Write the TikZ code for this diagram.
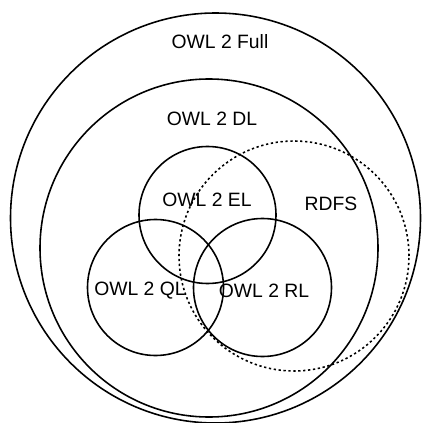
\documentclass[tikz,border=0pt]{standalone}
\usepackage{fontspec}
\setmainfont{Liberation Sans}
\usepackage{tikz}
\usetikzlibrary{positioning}

\tikzset{
  setline/.style={line width=0.9pt},
  rdfsline/.style={line width=0.9pt, dash pattern=on 1.3pt off 1.5pt},
  setlabel/.style={font=\fontsize{11}{13}\selectfont, inner sep=0pt}
}

\begin{document}
\begin{tikzpicture}
\useasboundingbox (0,0) rectangle (8.42,-8.46);
% profile circles
\draw[setline] (4.31,-4.36) circle (4.10);
\draw[setline] (4.18,-4.96) circle (3.38);
\draw[setline] (4.15,-4.30) circle (1.37);
\draw[setline] (3.11,-5.75) circle (1.36);
\draw[setline] (5.25,-5.75) circle (1.38);
\draw[rdfsline] (5.88,-5.12) circle (2.30);
% labels
\node[setlabel] (full) at (4.40,-0.84) {OWL 2 Full};
\node[setlabel] (dl) at (4.24,-2.38) {OWL 2 DL};
\node[setlabel] (el) at (4.14,-4.00) {OWL 2 EL};
\node[setlabel] (rdfs) at (6.62,-4.08) {RDFS};
\node[setlabel] (ql) at (2.80,-5.82) {OWL 2 QL};
\node[setlabel] (rl) at (5.28,-5.82) {OWL 2 RL};
\end{tikzpicture}
\end{document}
